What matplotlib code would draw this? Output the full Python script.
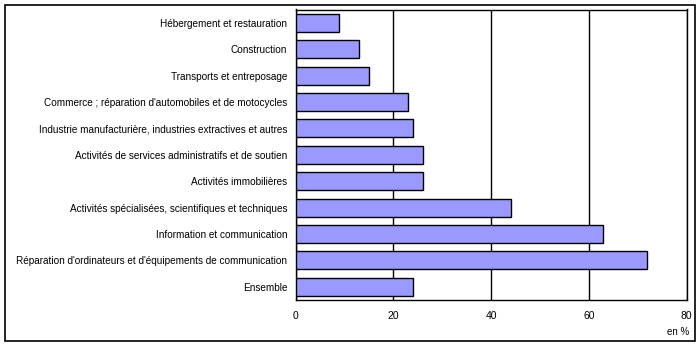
import matplotlib
matplotlib.use("Agg")
import matplotlib.pyplot as plt
from matplotlib.patches import Rectangle

categories = [
    "Hébergement et restauration",
    "Construction",
    "Transports et entreposage",
    "Commerce ; réparation d'automobiles et de motocycles",
    "Industrie manufacturière, industries extractives et autres",
    "Activités de services administratifs et de soutien",
    "Activités immobilières",
    "Activités spécialisées, scientifiques et techniques",
    "Information et communication",
    "Réparation d'ordinateurs et d'équipements de communication",
    "Ensemble",
]
values = [9, 13, 15, 23, 24, 26, 26, 44, 63, 72, 24]
xticks = [0, 20, 40, 60, 80]

plt.rcParams["font.family"] = ["Liberation Sans", "DejaVu Sans"]

W, H = 700, 347
fig = plt.figure(figsize=(W / 100, H / 100), dpi=100)

# outer frame around the whole chart
fig.patches.append(Rectangle((5 / W, 1 - 341 / H), 690 / W, 336 / H,
                             transform=fig.transFigure, fill=False,
                             edgecolor="black", linewidth=1.2))

left, right, top, bottom = 295.5, 686.5, 9.5, 300
ax = fig.add_axes([left / W, 1 - bottom / H, (right - left) / W, (bottom - top) / H])

y = list(range(len(categories)))
ax.barh(y, values, height=0.68, color="#9999ff", edgecolor="black", linewidth=1.0, zorder=3)
ax.set_ylim(len(categories) - 0.5, -0.5)
ax.set_xlim(0, 80)
ax.set_xticks(xticks)
ax.set_xticklabels([str(t) for t in xticks], fontsize=7.5)
ax.set_yticks(y)
ax.set_yticklabels(categories, fontsize=7.2)
ax.tick_params(axis="both", length=0, pad=6)
ax.tick_params(axis="x", pad=8)
ax.grid(axis="x", color="black", linewidth=1.0, zorder=0)
for s in ax.spines.values():
    s.set_linewidth(1.0)
    s.set_color("black")

fig.text(678 / W, 1 - 332 / H, "en %", fontsize=7, ha="center", va="center")

fig.savefig("out.png", dpi=100)
